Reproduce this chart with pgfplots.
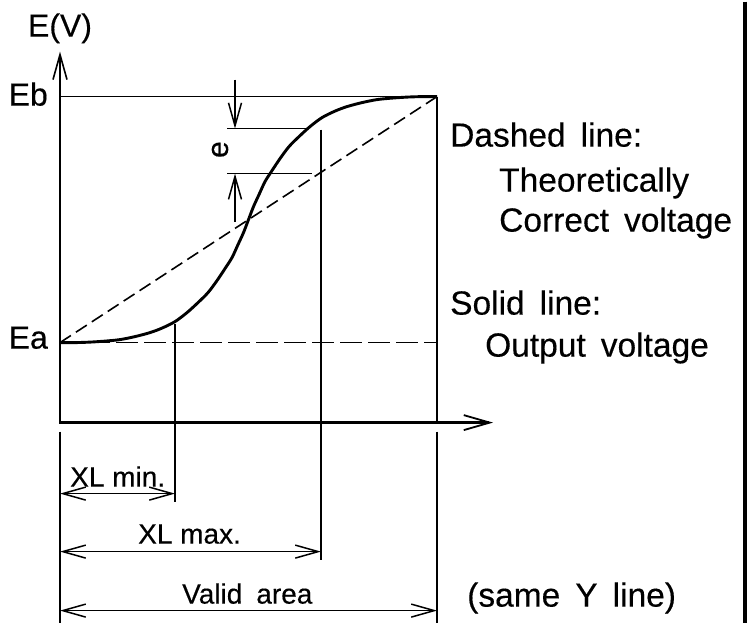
\documentclass[border=0pt]{standalone}
\usepackage{fontspec}
\setmainfont{Liberation Sans}[FakeBold=0.35]
\usepackage{pgfplots}
\pgfplotsset{compat=1.18}
\usetikzlibrary{arrows.meta}
\begin{document}
\begin{tikzpicture}[>={Straight Barb[length=23pt,width=13pt,line width=1.5pt]}]
\begin{axis}[scale only axis, width=754pt, height=621pt,
  xmin=0, xmax=754, ymin=0, ymax=621, y dir=reverse,
  axis lines=none, ticks=none, clip=false, no markers]
\addplot[draw=none] coordinates {(0,0) (754,621)};
% axes
\addplot[black, line width=1.5pt, -{Straight Barb[length=25pt,width=14pt,line width=1.6pt]}] coordinates {(60,421) (60,50)};
\addplot[black, line width=2.5pt] coordinates {(60,341) (60,422)};
\addplot[black, line width=3pt, -{Straight Barb[length=26pt,width=15pt,line width=1.8pt]}] coordinates {(59,421) (493,421)};
% frame lines
\addplot[black, line width=1.5pt] coordinates {(61,95) (437,95)};
\addplot[black, line width=1.6pt] coordinates {(437,95) (437,421)};
\addplot[black, line width=1.5pt] coordinates {(437,430) (437,621)};
\addplot[black, line width=1.5pt] coordinates {(60,430) (60,621)};
% theoretical (dashed)
\addplot[black, line width=1.6pt, dash pattern=on 13pt off 6pt] coordinates {(60,341) (437,95)};
\addplot[black, line width=1.2pt, dash pattern=on 22pt off 6pt] coordinates {(60,341) (437,341)};
% output (solid S-curve)
\addplot[black, line width=2.9pt, smooth] coordinates {
(60,341) (75,341) (90,340.5) (105,339.5) (120,338) (135,335) (150,331)
(162,326.5) (175,320) (187,311) (198,301) (208,291) (217,279) (225,267)
(232,256) (238,243) (243.5,231) (248.5,218) (253.5,205) (259,193) (265,180)
(272,169) (280,157) (289,145) (299,135) (310,125) (322,116) (335,109.5)
(347,105) (362,101) (377,98) (392,96.5) (407,95.5) (422,95) (437,95)};
% XL verticals
\addplot[black, line width=1.5pt] coordinates {(175,322) (175,500)};
\addplot[black, line width=1.5pt] coordinates {(321,128) (321,558)};
% e marks
\addplot[black, line width=1.5pt] coordinates {(227,127) (307,127)};
\addplot[black, line width=1.5pt] coordinates {(227,172) (312,172)};
\addplot[black, line width=1.5pt, ->] coordinates {(235,78) (235,127)};
\addplot[black, line width=1.5pt, ->] coordinates {(235,220) (235,172)};
% dimension arrows
\addplot[black, line width=1.4pt, <->] coordinates {(60,492) (175,492)};
\addplot[black, line width=1.4pt, <->] coordinates {(60,550) (321,550)};
\addplot[black, line width=1.4pt, <->] coordinates {(60,609) (437,609)};
% right border
\addplot[black, line width=3.2pt] coordinates {(745,0) (745,621)};
% labels
\node[anchor=base, font=\fontsize{32}{36}\selectfont] at (axis cs:60,35) {E(V)};
\node[anchor=base east, font=\fontsize{32}{36}\selectfont, inner sep=0pt] at (axis cs:48,104) {Eb};
\node[anchor=base east, font=\fontsize{32}{36}\selectfont, inner sep=0pt] at (axis cs:48,347) {Ea};
\node[rotate=90, font=\fontsize{30}{34}\selectfont, inner sep=0pt] at (axis cs:220,148) {e};
\node[anchor=base west, inner sep=0pt, font=\fontsize{28}{32}\selectfont] at (axis cs:70,485) {XL min.};
\node[anchor=base west, inner sep=0pt, font=\fontsize{28}{32}\selectfont] at (axis cs:138,542) {XL max.};
\node[anchor=base west, inner sep=0pt, font=\fontsize{28}{32}\selectfont] at (axis cs:182,602) {Valid\hspace{0.5em}area};
\node[anchor=base west, inner sep=0pt, font=\fontsize{33.5}{38}\selectfont] at (axis cs:450,145) {Dashed\hspace{0.45em}line:};
\node[anchor=base west, inner sep=0pt, font=\fontsize{33.5}{38}\selectfont] at (axis cs:499,190) {Theoretically};
\node[anchor=base west, inner sep=0pt, font=\fontsize{33.5}{38}\selectfont] at (axis cs:499,230) {Correct\hspace{0.45em}voltage};
\node[anchor=base west, inner sep=0pt, font=\fontsize{33.5}{38}\selectfont] at (axis cs:450,313) {Solid\hspace{0.45em}line:};
\node[anchor=base west, inner sep=0pt, font=\fontsize{33.5}{38}\selectfont] at (axis cs:485,355) {Output\hspace{0.45em}voltage};
\node[anchor=base west, inner sep=0pt, font=\fontsize{33.5}{38}\selectfont] at (axis cs:467,605) {(same\hspace{0.45em}Y\hspace{0.45em}line)};
\end{axis}
\end{tikzpicture}
\end{document}
